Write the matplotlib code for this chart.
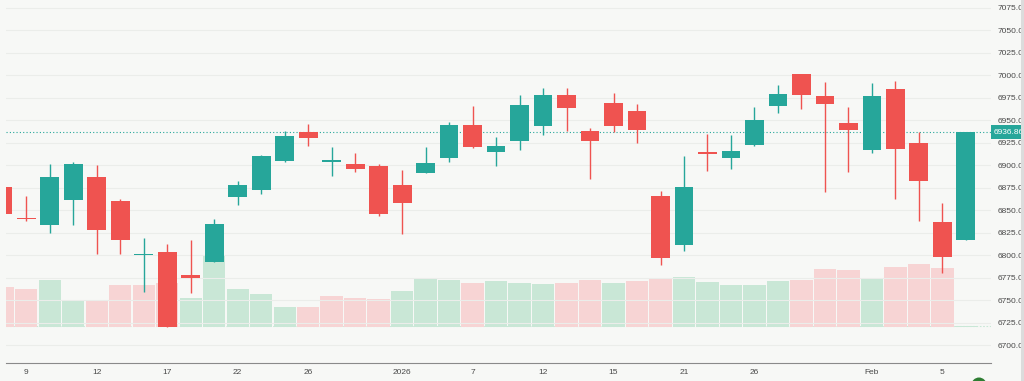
import numpy as np
import matplotlib.pyplot as plt
from matplotlib.patches import Circle, Rectangle
from matplotlib.transforms import blended_transform_factory

# daily candles, 8 Dec 2025 .. 6 Feb 2026
dates = ['2025-12-08', '2025-12-09', '2025-12-10', '2025-12-11', '2025-12-12',
         '2025-12-15', '2025-12-16', '2025-12-17', '2025-12-18', '2025-12-19',
         '2025-12-22', '2025-12-23', '2025-12-24', '2025-12-26', '2025-12-29',
         '2025-12-30', '2025-12-31', '2026-01-02', '2026-01-05', '2026-01-06',
         '2026-01-07', '2026-01-08', '2026-01-09', '2026-01-12', '2026-01-13',
         '2026-01-14', '2026-01-15', '2026-01-16', '2026-01-20', '2026-01-21',
         '2026-01-22', '2026-01-23', '2026-01-26', '2026-01-27', '2026-01-28',
         '2026-01-29', '2026-01-30', '2026-02-02', '2026-02-03', '2026-02-04',
         '2026-02-05', '2026-02-06']
opens = [6875.5, 6841.0, 6833.2, 6861.3, 6886.9, 6860.2, 6800.0, 6803.1, 6777.9, 6792.7,
         6865.0, 6872.1, 6904.7, 6936.7, 6903.5, 6901.1, 6898.8, 6878.4, 6891.7, 6907.7,
         6944.8, 6914.4, 6927.0, 6943.7, 6977.8, 6937.8, 6969.6, 6960.7, 6865.5, 6810.9,
         6914.8, 6907.7, 6922.9, 6965.6, 7001.9, 6977.4, 6947.0, 6916.6, 6985.2, 6924.8,
         6837.2, 6816.5]
highs = [6880.0, 6865.5, 6901.1, 6903.3, 6899.9, 6862.1, 6818.7, 6812.4, 6816.5, 6840.2,
         6882.1, 6911.4, 6937.8, 6945.9, 6920.3, 6913.3, 6901.4, 6895.1, 6920.3, 6948.5,
         6965.9, 6931.1, 6978.2, 6986.3, 6986.3, 6941.1, 6980.1, 6967.8, 6871.4, 6910.3,
         6935.1, 6933.7, 6964.5, 6989.0, 7002.0, 6992.3, 6964.5, 6991.9, 6993.4, 6936.6,
         6858.0, 6936.86]
lows = [6843.0, 6837.6, 6824.3, 6833.2, 6801.6, 6801.6, 6759.0, 6720.0, 6757.9, 6792.0,
        6855.4, 6868.4, 6904.0, 6921.8, 6888.0, 6892.8, 6843.9, 6823.9, 6891.0, 6904.0,
        6918.9, 6898.8, 6917.0, 6933.7, 6938.5, 6885.1, 6936.7, 6925.1, 6789.0, 6804.9,
        6893.3, 6895.5, 6921.4, 6958.5, 6962.9, 6870.6, 6892.8, 6914.0, 6862.1, 6838.3,
        6779.8, 6816.5]
closes = [6846.1, 6840.2, 6886.9, 6901.1, 6827.6, 6816.5, 6800.8, 6720.4, 6774.6, 6834.3,
          6878.4, 6910.3, 6932.2, 6930.0, 6905.5, 6895.8, 6845.4, 6858.3, 6902.2, 6944.8,
          6920.7, 6921.8, 6966.7, 6977.8, 6963.4, 6926.7, 6943.7, 6939.2, 6796.5, 6875.5,
          6912.9, 6915.9, 6950.0, 6978.9, 6978.2, 6968.5, 6938.9, 6976.7, 6917.7, 6882.1,
          6798.3, 6936.86]
# volume in billions
volumes = [2.67, 2.53, 3.09, 1.80, 1.80, 2.80, 2.80, 2.89, 1.91, 4.78,
           2.51, 2.16, 1.29, 1.29, 2.03, 1.89, 1.85, 2.38, 3.25, 3.11,
           2.93, 3.03, 2.93, 2.85, 2.89, 3.11, 2.89, 3.03, 3.25, 3.29,
           2.98, 2.76, 2.78, 3.03, 3.11, 3.87, 3.76, 3.25, 3.96, 4.18,
           3.91, 0.07]
prev_close = 6870.0  # close of 5 Dec, only used for the first volume colour

tick_dates = ['2025-12-09', '2025-12-12', '2025-12-17', '2025-12-22', '2025-12-26',
              '2026-01-02', '2026-01-07', '2026-01-12', '2026-01-15', '2026-01-21',
              '2026-01-26', '2026-02-02', '2026-02-05']
tick_labels = ['9', '12', '17', '22', '26', '2026', '7', '12', '15', '21', '26', 'Feb', '5']
price_ticks = np.arange(6700, 7076, 25)

UP = '#26a69a'
DOWN = '#ef5350'
VOL_UP = '#c9e7d6'
VOL_DOWN = '#f7d4d4'
BG = '#f7f8f6'
TXT = '#4a4a4a'

o = np.array(opens); h = np.array(highs); l = np.array(lows); c = np.array(closes)
x = np.arange(len(dates))
up = c >= o
vol_up = c >= np.concatenate([[prev_close], c[:-1]])

fig = plt.figure(figsize=(10.24, 3.81), dpi=100, facecolor=BG)
pos = [6 / 1024, 18 / 381, 985 / 1024, 363 / 381]

# volume pane underneath
axv = fig.add_axes(pos)
axv.set_facecolor(BG)
axv.bar(x, volumes, width=0.95, color=np.where(vol_up, VOL_UP, VOL_DOWN), zorder=1)
axv.axhline(volumes[-1], color=VOL_UP, lw=0.8, ls=(0, (1.5, 1.5)), zorder=0)
axv.set_ylim(-36.3 / 15, 326.7 / 15)
axv.set_xlim(0.136, 42.07)
axv.axis('off')

# price pane on top
ax = fig.add_axes(pos)
ax.patch.set_visible(False)
ax.set_xlim(0.136, 42.07)
ax.set_ylim(6680, 7083.9)

for yv in price_ticks:
    ax.axhline(yv, color='#ebedea', lw=0.8, zorder=0)

cols = np.where(up, UP, DOWN)
ax.vlines(x, l, h, colors=cols, lw=1, zorder=2)
body = np.maximum(np.abs(c - o), 1.2)
ax.bar(x, body, bottom=np.minimum(o, c), width=0.8, color=cols, zorder=3)

last = closes[-1]
ax.axhline(last, color=UP, lw=0.8, ls=(0, (1, 2)), zorder=1)
tr = blended_transform_factory(ax.transAxes, ax.transData)
ax.text(1.003, last, f'{last:.2f}', transform=tr, ha='left', va='center',
        fontsize=6, family='Liberation Sans', color='white', clip_on=False,
        bbox=dict(boxstyle='square,pad=0.4', fc=UP, ec='none'))

ax.yaxis.tick_right()
ax.set_yticks(price_ticks)
ax.set_yticklabels([f'{v:.2f}' for v in price_ticks])
ax.set_xticks([dates.index(d) for d in tick_dates])
ax.set_xticklabels(tick_labels)
ax.tick_params(length=0, labelsize=6, labelcolor=TXT)
ax.tick_params(axis='y', pad=4.5)
ax.tick_params(axis='x', pad=4)
for lab in ax.get_xticklabels() + ax.get_yticklabels():
    lab.set_family('Liberation Sans')

for s in ['top', 'right', 'left']:
    ax.spines[s].set_visible(False)
ax.spines['bottom'].set_color('#8a8a8a')
ax.spines['bottom'].set_linewidth(0.8)

fig.patches.append(Rectangle((1021 / 1024, 0), 3 / 1024, 1, transform=fig.transFigure,
                             fc='#dcdcdc', ec='none'))
fig.patches.append(Circle((9.79, -0.04), 0.075, transform=fig.dpi_scale_trans,
                          fc='#2e7d32', ec='none'))

fig.savefig('out.png', dpi=100, facecolor=BG)
